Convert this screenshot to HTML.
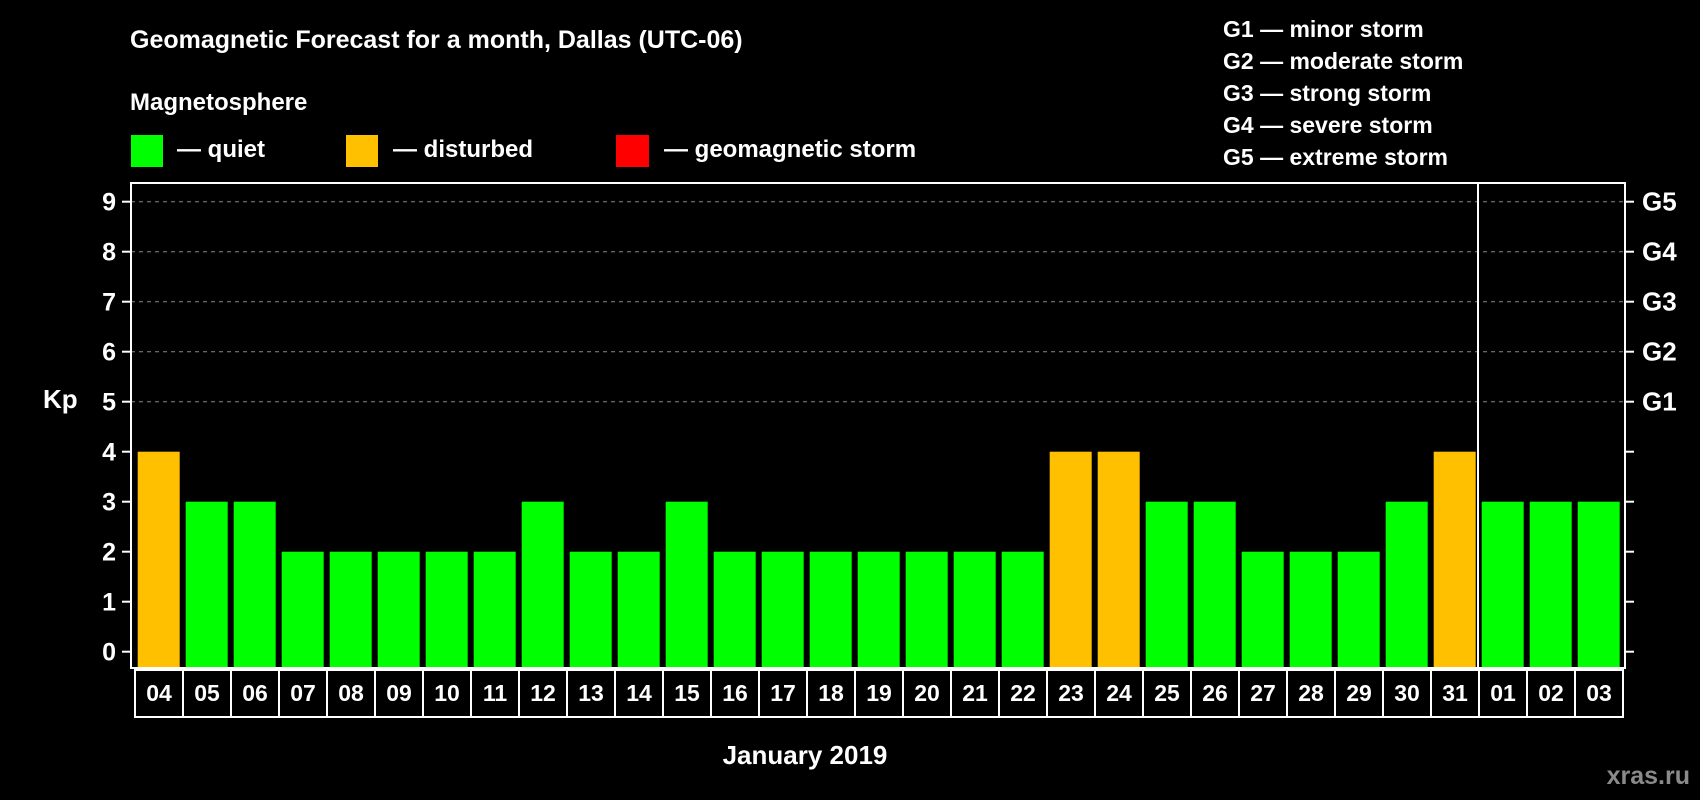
<!DOCTYPE html>
<html><head><meta charset="utf-8"><style>
html,body{margin:0;padding:0;background:#000;width:1700px;height:800px;overflow:hidden}
svg text{font-family:"Liberation Sans",Arial,sans-serif;font-weight:bold;fill:#fff}
</style></head><body>
<svg id="chart" width="1700" height="800" viewBox="0 0 1700 800" xmlns="http://www.w3.org/2000/svg">
<rect width="1700" height="800" fill="#000"/>
<text x="130" y="48" font-size="25">Geomagnetic Forecast for a month, Dallas (UTC-06)</text>
<text x="130" y="110" font-size="24">Magnetosphere</text>
<rect x="131" y="135" width="32" height="32" fill="#00ff00"/>
<text x="177" y="157" font-size="24">— quiet</text>
<rect x="346" y="135" width="32" height="32" fill="#ffc000"/>
<text x="393" y="157" font-size="24">— disturbed</text>
<rect x="616" y="135" width="33" height="32" fill="#ff0000"/>
<text x="664" y="157" font-size="24">— geomagnetic storm</text>
<g font-size="23">
<text x="1223" y="37">G1 — minor storm</text>
<text x="1223" y="69">G2 — moderate storm</text>
<text x="1223" y="101">G3 — strong storm</text>
<text x="1223" y="133">G4 — severe storm</text>
<text x="1223" y="165">G5 — extreme storm</text>
</g>
<text x="43" y="408" font-size="26">Kp</text>
<text x="805" y="764" font-size="26" text-anchor="middle">January 2019</text>
<text x="1690" y="784" font-size="25" text-anchor="end" style="fill:#8a8a8a">xras.ru</text>
<g id="grid"></g><g id="bars"></g><g id="axes"></g>
</svg>
<script>
const days=["04","05","06","07","08","09","10","11","12","13","14","15","16","17","18","19","20","21","22","23","24","25","26","27","28","29","30","31","01","02","03"];
const kpValues=[4,3,3,2,2,2,2,2,3,2,2,3,2,2,2,2,2,2,2,4,4,3,3,2,2,2,3,4,3,3,3];
const yTicks=[0,1,2,3,4,5,6,7,8,9];
const gTicks=[5,6,7,8,9];
const gLabels=["G1","G2","G3","G4","G5"];
const NS="http://www.w3.org/2000/svg";
const X0=131,X1=1625,Y0=183,Y1=668,bandStart=135,slot=48;
function yPos(v){return 651.7-v*50;}
function xPos(i){return bandStart+i*slot;}
function mk(tag,attrs,parent){const e=document.createElementNS(NS,tag);for(const k in attrs)e.setAttribute(k,attrs[k]);parent.appendChild(e);return e;}
const grid=document.getElementById('grid'),bars=document.getElementById('bars'),axes=document.getElementById('axes');
gTicks.forEach(function(v){
  const l=mk('line',{x1:X0,x2:X1,y1:yPos(v),y2:yPos(v),stroke:'#888','stroke-dasharray':'4,4','stroke-width':1},grid);
  
  
});
kpValues.forEach(function(v,i){
  const r=mk('rect',{x:xPos(i)+2.7,y:yPos(v),width:42,height:Y1-yPos(v),fill:v>=5?'#ff0000':(v>=4?'#ffc000':'#00ff00')},bars);
  
  
});
const frame=mk('rect',{x:X0,y:Y0,width:X1-X0,height:Y1-Y0,fill:'none',stroke:'#fff','stroke-width':2},axes);


const div=mk('line',{x1:xPos(28)-1,x2:xPos(28)-1,y1:Y0,y2:Y1,stroke:'#fff','stroke-width':2},axes);


yTicks.forEach(function(v){
  const t1=mk('line',{x1:X0-9,x2:X0,y1:yPos(v),y2:yPos(v),stroke:'#fff','stroke-width':2},axes);
  
  
  const t2=mk('line',{x1:X1,x2:X1+9,y1:yPos(v),y2:yPos(v),stroke:'#fff','stroke-width':2},axes);
  
  
  const tx=mk('text',{x:116,y:yPos(v)+9,'font-size':25,'text-anchor':'end'},axes);
  tx.textContent=v;
  
  
});
gTicks.forEach(function(v,i){
  const tx=mk('text',{x:1642,y:yPos(v)+9,'font-size':26},axes);
  tx.textContent=gLabels[i];
  
  
});
days.forEach(function(d,i){
  const b=mk('rect',{x:xPos(i),y:670,width:slot,height:47,fill:'#000',stroke:'#fff','stroke-width':2},axes);
  
  
  const tx=mk('text',{x:xPos(i)+slot/2,y:701,'font-size':23,'text-anchor':'middle'},axes);
  tx.textContent=d;
  
  
});
</script>
</body></html>
